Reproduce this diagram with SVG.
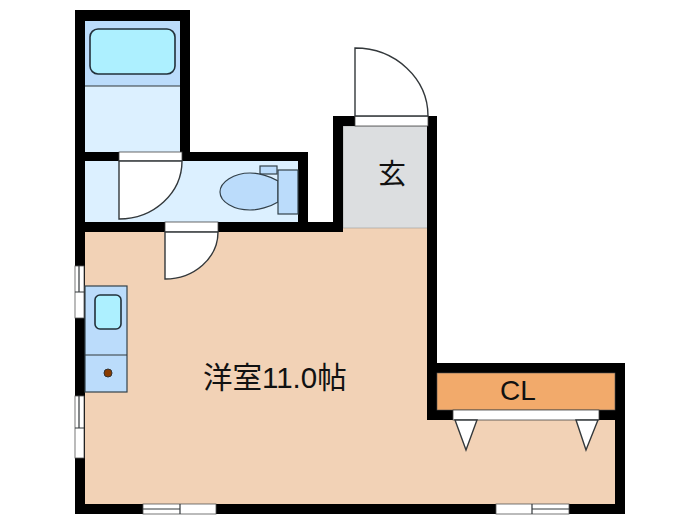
<svg xmlns="http://www.w3.org/2000/svg" width="700" height="525" viewBox="0 0 700 525">
<style>
.wall{fill:#000}
.ln{stroke:#33383b;stroke-width:1.2;fill:none}
.door{fill:#fff;stroke:#33383b;stroke-width:1.4}
.gap{fill:#fff;stroke:#444;stroke-width:.8}
.pale{fill:#dcf0ff}
.mid{fill:#bbdcfb;stroke:#33414a;stroke-width:1.2}
.tub{fill:#adf0ff;stroke:#22303a;stroke-width:1.6}
.win{fill:#fff;stroke:#555;stroke-width:.8}
text{fill:#111;font-family:"Liberation Sans","Noto Sans CJK JP",sans-serif}
</style>
<rect width="700" height="525" fill="#fff"/>
<g id="floors">
<path d="M85 232H343V227H428V373H615V504H85Z" fill="#f2d2b6"/>
<rect x="343" y="126" width="85" height="102" fill="#dcdee0" stroke="#999" stroke-width=".6"/>
<rect class="pale" x="85" y="21" width="95" height="132"/>
<rect class="pale" x="85" y="161" width="213" height="61"/>
</g>
<g id="walls">
<path class="wall" d="M75 10H190V152H308V222H333V116H437V363H625V514H75ZM85 21V152H180V21ZM85 161V222H298V161ZM343 126V232H85V504H615V373H437V420H427V232V126Z" fill-rule="evenodd"/>
<rect class="wall" x="427" y="363" width="10" height="57"/>
<rect class="wall" x="437" y="410" width="188" height="10"/>
</g>
<g id="bath">
<rect x="85" y="21" width="95" height="65" fill="#bbdcfb"/>
<path class="ln" d="M85 86H180"/>
<rect class="tub" x="90" y="29" width="85" height="45" rx="8"/>
</g>
<g id="toilet">
<rect class="mid" x="260" y="166" width="17" height="8"/>
<path class="ln" d="M260 174L278 181"/>
<path class="mid" d="M278 181C270 176 258 173 250 173C234 173 220 182 220 192C220 202 234 210 250 210C258 210 270 207 278 202Z"/>
<rect class="mid" x="278" y="170" width="20" height="44"/>
</g>
<g id="kitchen">
<rect class="mid" x="85" y="286" width="42" height="106"/>
<path class="ln" d="M85 355H127"/>
<rect class="tub" x="95" y="295" width="26" height="34" rx="5"/>
<circle cx="108" cy="373" r="4" fill="#8a3c00" stroke="#333" stroke-width="1"/>
</g>
<g id="cl">
<rect x="437" y="373" width="178" height="37" fill="#f2aa6b" stroke="#555" stroke-width=".6"/>
<text x="518" y="400" font-size="28" text-anchor="middle">CL</text>
</g>
<g id="doors">
<rect class="gap" x="119" y="152" width="63" height="9"/>
<path class="door" d="M119 161V219A63 58 0 0 0 182 161Z"/>
<rect class="gap" x="165" y="222" width="53" height="10"/>
<path class="door" d="M165 232V279A53 47 0 0 0 218 232Z"/>
<rect class="gap" x="355" y="116" width="73" height="10"/>
<path class="door" d="M355 116V48A73 68 0 0 1 428 116Z"/>
<rect class="gap" x="453" y="410" width="146" height="10"/>
<path class="door" d="M455 420H477L466 450Z"/>
<path class="door" d="M576 420H598L586 450Z"/>
</g>
<g id="windows">
<rect class="win" x="75" y="266" width="9" height="52"/>
<path class="ln" d="M79 266V292M75 292H84"/>
<rect class="win" x="75" y="396" width="9" height="62"/>
<path class="ln" d="M79 396V428M75 428H84"/>
<rect class="win" x="143" y="504" width="73" height="10"/>
<path class="ln" d="M143 509H180M180 504V514"/>
<rect class="win" x="496" y="504" width="73" height="10"/>
<path class="ln" d="M532 509H569M532 504V514"/>
</g>
<g id="labels">
<text x="392" y="184" font-size="28" text-anchor="middle" font-family="'Noto Sans CJK JP',sans-serif">玄</text>
<text x="203" y="388" font-size="29.5">洋室11.0帖</text>
</g>
</svg>
